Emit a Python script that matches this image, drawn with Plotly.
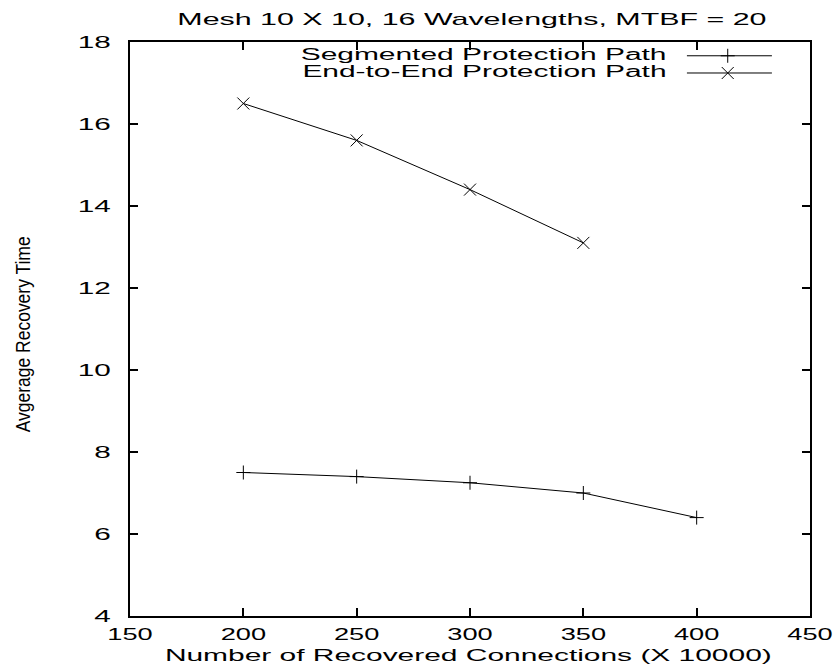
import plotly.graph_objects as go

connections = [200, 250, 300, 350, 400]
segmented = [7.5, 7.4, 7.25, 7.0, 6.4]
end_to_end_x = [200, 250, 300, 350]
end_to_end = [16.5, 15.6, 14.4, 13.1]
series_names = ["Segmented Protection Path", "End-to-End Protection Path"]
x_ticks = [150, 200, 250, 300, 350, 400, 450]
y_ticks = [4, 6, 8, 10, 12, 14, 16, 18]

FONT = "Liberation Sans, Arial, Helvetica, sans-serif"
symbols = ["cross-thin", "x-thin"]
sizes = [10, 12]

fig = go.Figure()
fig.add_trace(go.Scatter(
    x=connections, y=segmented, mode="lines+markers", name=series_names[0],
    line=dict(color="black", width=1),
    marker=dict(symbol=symbols[0], size=sizes[0], line=dict(color="black", width=1)),
    showlegend=False))
fig.add_trace(go.Scatter(
    x=end_to_end_x, y=end_to_end, mode="lines+markers", name=series_names[1],
    line=dict(color="black", width=1),
    marker=dict(symbol=symbols[1], size=sizes[1], line=dict(color="black", width=1)),
    showlegend=False))

# gnuplot-style key (text right-aligned, sample to its right) on a hidden overlay axis
leg_y = [0.976, 0.946]
for i, name in enumerate(series_names):
    fig.add_shape(type="line", xref="paper", yref="paper", x0=0.819, x1=0.944,
                  y0=leg_y[i], y1=leg_y[i], line=dict(color="black", width=1))
    fig.add_trace(go.Scatter(x=[0.879], y=[leg_y[i]], xaxis="x2", yaxis="y2",
                             mode="markers", showlegend=False, hoverinfo="skip",
                             marker=dict(symbol=symbols[i], size=sizes[i],
                                         line=dict(color="black", width=1))))
    fig.add_trace(go.Scatter(x=[0.789], y=[leg_y[i]], xaxis="x2", yaxis="y2",
                             mode="text", text=[name], textposition="middle left",
                             textfont=dict(family=FONT, size=16, color="black"),
                             showlegend=False, hoverinfo="skip"))

axis_common = dict(showgrid=False, zeroline=False, showline=True, linecolor="black",
                   linewidth=1.5, mirror="allticks", ticks="inside", ticklen=8,
                   tickcolor="black", tickwidth=1.5, automargin=False,
                   tickfont=dict(family=FONT, size=17, color="black"))

fig.update_layout(
    width=839, height=668,
    margin=dict(l=130, r=29, t=42, b=52),
    paper_bgcolor="white", plot_bgcolor="white",
    title=dict(text="Mesh 10 X 10, 16 Wavelengths, MTBF = 20", x=0.5625, xanchor="center",
               y=0.971, yanchor="middle", font=dict(family=FONT, size=16, color="black")),
    xaxis=dict(range=[150, 450], tickvals=x_ticks, ticklabelstandoff=2, **axis_common),
    yaxis=dict(range=[4, 18], tickvals=y_ticks, ticklabelstandoff=14, **axis_common),
    xaxis2=dict(range=[0, 1], overlaying="x", visible=False),
    yaxis2=dict(range=[0, 1], overlaying="y", visible=False),
)
# axis titles
fig.add_annotation(x=0.498, y=-0.068, xref="paper", yref="paper",
                   text="Number of Recovered Connections (X 10000)", showarrow=False,
                   xanchor="center", yanchor="middle",
                   font=dict(family=FONT, size=16, color="black"))
fig.add_annotation(x=-0.157, y=0.491, xref="paper", yref="paper",
                   text="Avgerage Recovery Time", textangle=-90, showarrow=False,
                   xanchor="center", yanchor="middle",
                   font=dict(family=FONT, size=17.5, color="black"))

# the reference uses a horizontally extended typeface: widen the horizontal texts
stretch_js = """
var gd = document.getElementById('{plot_id}');
function stretchEl(t, s) {
  var x = parseFloat(t.getAttribute('x') || '0');
  var tr = t.getAttribute('transform') || '';
  t.setAttribute('transform', tr + ' translate(' + x + ',0) scale(' + s + ',1) translate(' + (-x) + ',0)');
}
function stretch(sel, s) {
  gd.querySelectorAll(sel).forEach(function(t) { stretchEl(t, s); });
}
stretch('text.gtitle', 1.9);
stretch('g.xtick text', 1.6);
stretch('g.ytick text', 1.75);
stretch('g.textpoint text', 1.87);
var anns = gd.querySelectorAll('g.annotation');
if (anns.length > 0) {
  var t0 = anns[0].querySelector('text.annotation-text');
  if (t0) stretchEl(t0, 1.87);
}
if (anns.length > 1) {
  var g = anns[1];
  var bb = g.getBBox();
  var cx = bb.x + bb.width / 2;
  var tr = g.getAttribute('transform') || '';
  g.setAttribute('transform', 'translate(' + cx + ',0) scale(1.2,1) translate(' + (-cx) + ',0) ' + tr);
}
"""

fig.write_html("out.html", post_script=stretch_js)
